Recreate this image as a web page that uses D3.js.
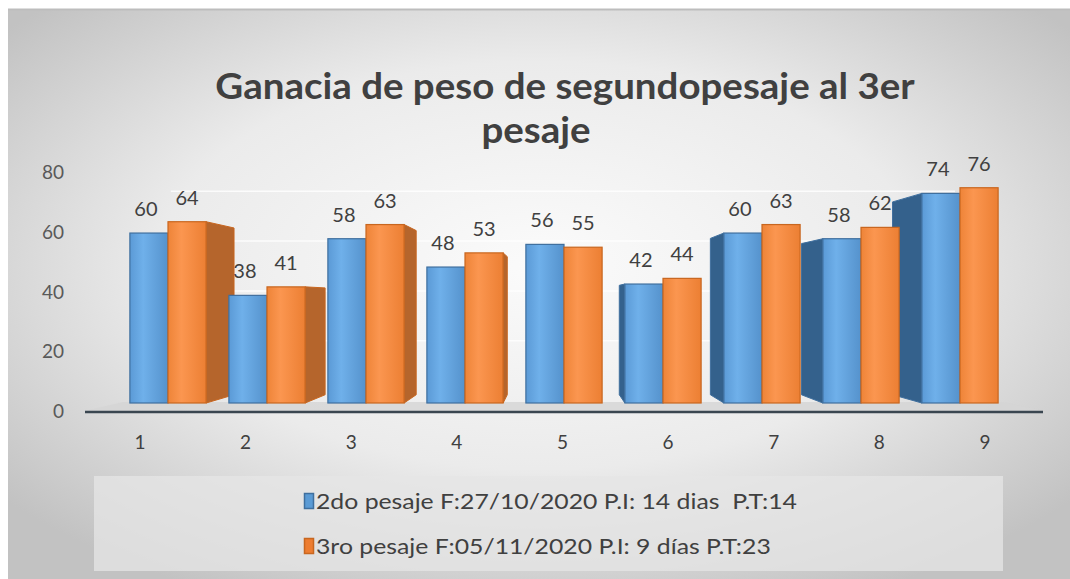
<!DOCTYPE html>
<html>
<head>
<meta charset="utf-8">
<script src="https://cdn.jsdelivr.net/npm/d3@7"></script>
<style>
  body { margin: 0; background: #fff; }
  text { font-family: Lato, "Open Sans", sans-serif; fill: #404040; white-space: pre; }
</style>
</head>
<body>
<svg id="chart" width="1070" height="579"></svg>
<script>
// data
var categories = ["1", "2", "3", "4", "5", "6", "7", "8", "9"];
var segundo = [60, 38, 58, 48, 56, 42, 60, 58, 74];
var tercero = [64, 41, 63, 53, 55, 44, 63, 62, 76];
var seriesNames = ["2do pesaje F:27/10/2020 P.I: 14 dias  P.T:14",
                   "3ro pesaje F:05/11/2020 P.I: 9 días P.T:23"];
var yTicks = [0, 20, 40, 60, 80];
var titleLines = ["Ganacia de peso de segundopesaje al 3er", "pesaje"];

var W = 1070, H = 579;
var svg = d3.select("#chart");

// fake 3d: vanishing point + depth
var VX = 555, VY = 300, T = 0.08;
function proj(x, y, t) {
    return [x + (VX - x) * t, y + (VY - y) * t];
}
function ptsStr(pts) {
    return pts.map(function(p) { return p.join(","); }).join(" ");
}
// stretch text a bit wider (reference font is wider than Lato)
function stretch(sel, k) {
    sel.each(function() {
        var len = this.getComputedTextLength();
        d3.select(this).attr("textLength", len * k).attr("lengthAdjust", "spacingAndGlyphs");
    });
}

var defs = svg.append("defs");
var bg = defs.append("radialGradient").attr("id", "bg")
    .attr("cx", "50%").attr("cy", "45%").attr("r", "65%");
bg.append("stop").attr("offset", "0%").attr("stop-color", "#fbfbfb");
bg.append("stop").attr("offset", "55%").attr("stop-color", "#ebebeb");
bg.append("stop").attr("offset", "100%").attr("stop-color", "#c2c2c2");

function barGrad(id, light, mid, dark) {
    var g = defs.append("linearGradient").attr("id", id)
        .attr("x1", "0").attr("x2", "1").attr("y1", "0").attr("y2", "0");
    g.append("stop").attr("offset", "0%").attr("stop-color", mid);
    g.append("stop").attr("offset", "35%").attr("stop-color", light);
    g.append("stop").attr("offset", "100%").attr("stop-color", dark);
}
barGrad("gBlue", "#6fb0ea", "#5b9ad6", "#5592cc");
barGrad("gOrange", "#fb9650", "#ee8438", "#ec7f33");

var colors = [
    {front: "url(#gBlue)", side: "#34618c", stroke: "#3f6f9e", key: "#5b9bd5"},
    {front: "url(#gOrange)", side: "#b5652c", stroke: "#c8661f", key: "#ed7d31"}
];

// background
svg.append("rect").attr("x", 8).attr("y", 9).attr("width", W - 8).attr("height", H - 9)
    .attr("fill", "url(#bg)");
svg.append("line").attr("x1", 8).attr("x2", W).attr("y1", 9.5).attr("y2", 9.5)
    .attr("stroke", "#bdbdbd").attr("stroke-width", 2);

// title
var titleX = [565, 536];
var title = svg.append("g").selectAll("text").data(titleLines).enter().append("text")
    .attr("x", function(d, i) { return titleX[i]; })
    .attr("y", function(d, i) { return 99 + i * 44; })
    .attr("text-anchor", "middle")
    .style("font-size", "37px").style("font-weight", "bold")
    .style("fill", "#404040")
    .text(function(d) { return d; });
stretch(title, 1.04);

// scales
var yAxisScale = d3.scaleLinear().domain([0, 80]).range([411, 172]);
var yBar = d3.scaleLinear().domain([0, 80]).range([403, 176.4]);
var xBand = d3.scaleBand().domain(categories).range([118.5, 1009.5])
    .paddingInner(0.23).paddingOuter(0.115);
var xSub = d3.scaleBand().domain([0, 1]).range([0, xBand.bandwidth()]);
var xLabel = d3.scalePoint().domain(categories).range([140, 985]);

// back wall gridlines
var grid = svg.append("g");
yTicks.slice(1).forEach(function(v) {
    var a = proj(xBand.range()[0], yBar(v), 0.12);
    var b = proj(xBand.range()[1], yBar(v), 0.12);
    grid.append("line").attr("x1", a[0]).attr("x2", b[0]).attr("y1", a[1]).attr("y2", b[1])
        .attr("stroke", "#ffffff").attr("stroke-opacity", 0.8).attr("stroke-width", 1.5);
});

// floor
var f0 = proj(85, 411, T), f1 = proj(1043, 411, T);
svg.append("polygon")
    .attr("points", ptsStr([[85, 411], [1043, 411], f1, f0]))
    .attr("fill", "#d4d4d4").attr("opacity", 0.8);

// y axis labels
svg.append("g").selectAll("text").data(yTicks).enter().append("text")
    .attr("x", 64).attr("y", function(d) { return yAxisScale(d) + 7; })
    .attr("text-anchor", "end").style("font-size", "19px").style("fill", "#595959")
    .text(function(d) { return d; });

// bars
var bars = [];
[segundo, tercero].forEach(function(vals, s) {
    vals.forEach(function(v, i) {
        var x0 = xBand(categories[i]) + xSub(s);
        bars.push({s: s, i: i, v: v, x0: x0, x1: x0 + xSub.bandwidth(), top: yBar(v), bot: yBar(0)});
    });
});

function sidePts(b) {
    var xe = b.x1 < VX ? b.x1 : b.x0;
    return [[xe, b.top], proj(xe, b.top, T), proj(xe, b.bot, T), [xe, b.bot]];
}

var gBars = svg.append("g");
// sides first, then fronts on top
gBars.selectAll("polygon.side").data(bars.filter(function(b) {
        return (b.x1 < VX && b.s == 1) || (b.x0 > VX && b.s == 0);
    }))
    .enter().append("polygon").attr("class", "side")
    .attr("points", function(b) { return ptsStr(sidePts(b)); })
    .attr("fill", function(b) { return colors[b.s].side; })
    .attr("stroke", function(b) { return colors[b.s].stroke; }).attr("stroke-width", 1);

gBars.selectAll("rect.front").data(bars).enter().append("rect").attr("class", "front")
    .attr("x", function(b) { return b.x0; })
    .attr("y", function(b) { return b.top; })
    .attr("width", function(b) { return b.x1 - b.x0; })
    .attr("height", function(b) { return b.bot - b.top; })
    .attr("fill", function(b) { return colors[b.s].front; })
    .attr("stroke", function(b) { return colors[b.s].stroke; }).attr("stroke-width", 1.2);

// data labels
svg.append("g").selectAll("text").data(bars).enter().append("text")
    .attr("x", function(b) { return (b.x0 + b.x1) / 2 - 3 * (b.s == 0 ? 1 : 0); })
    .attr("y", function(b) { return b.top - 17; })
    .attr("text-anchor", "middle").style("font-size", "20px").style("fill", "#404040")
    .text(function(b) { return b.v; });

// floor front edge
svg.append("line").attr("x1", 85).attr("x2", 1043).attr("y1", 412).attr("y2", 412)
    .attr("stroke", "#3a4650").attr("stroke-width", 2.5);

// category labels
svg.append("g").selectAll("text").data(categories).enter().append("text")
    .attr("x", function(d) { return xLabel(d); }).attr("y", 449)
    .attr("text-anchor", "middle").style("font-size", "19px").style("fill", "#404040")
    .text(function(d) { return d; });

// legend
svg.append("rect").attr("x", 94).attr("y", 476).attr("width", 909).attr("height", 95)
    .attr("fill", "#e6e6e6").attr("opacity", 0.75);
var leg = svg.append("g").selectAll("g").data(seriesNames).enter().append("g")
    .attr("transform", function(d, i) { return "translate(304," + (493 + i * 45) + ")"; });
leg.append("rect").attr("x", 0.5).attr("y", 0.5).attr("width", 9).attr("height", 15)
    .attr("fill", function(d, i) { return colors[i].key; })
    .attr("stroke", function(d, i) { return colors[i].stroke; }).attr("stroke-width", 1.5);
var legText = leg.append("text").attr("x", 12).attr("y", 15.5)
    .style("font-size", "21px").style("fill", "#404040")
    .text(function(d) { return d; });
stretch(legText, 1.18);
</script>
</body>
</html>
